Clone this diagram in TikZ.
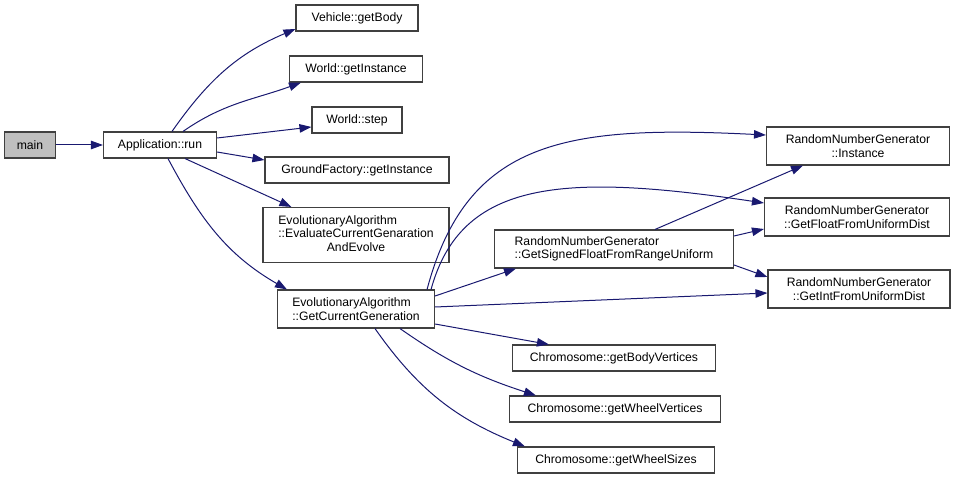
\documentclass[tikz,border=0pt]{standalone}
\usepackage{fontspec}
\setmainfont{Liberation Sans}
\usepackage{tikz}
\usetikzlibrary{arrows.meta, positioning}
\definecolor{edgeblue}{HTML}{191970}
\definecolor{rootgray}{HTML}{BFBFBF}
\definecolor{frame}{HTML}{404040}
\tikzstyle{fnode}    = [rectangle, draw=frame, fill=white, line width=1.1pt,
                        inner sep=2pt, minimum height=26pt,
                        font=\fontsize{12.2}{13.5}\selectfont]
\tikzstyle{fnode2}   = [fnode, minimum height=38pt]
\tikzstyle{rootnode} = [fnode, fill=rootgray]
\tikzstyle{call}     = [-{Triangle[length=12pt, width=8.5pt]}, line width=1pt,
                        color=edgeblue]

\begin{document}
\begin{tikzpicture}[x=1pt, y=1pt]
  \useasboundingbox (0,0) rectangle (967,480);

  %% caller
  \node[rootnode, minimum width=51pt] (main) at (30,335) {main};
  \node[fnode, minimum width=113pt] (apprun) at (160,335) {Application::run};

  %% callees of Application::run
  \node[fnode, minimum width=122pt] (vbody) at (357,462) {Vehicle::getBody};
  \node[fnode, minimum width=133pt] (wgi) at (356,411) {World::getInstance};
  \node[fnode, minimum width=90pt] (wstep) at (357,360) {World::step};
  \node[fnode, minimum width=184pt] (gfgi) at (357,310) {GroundFactory::getInstance};
  \node[fnode, minimum width=186pt, minimum height=55pt] (eaeval) at (356,245)
        {\begin{tabular}{@{}l@{}}EvolutionaryAlgorithm\\::EvaluateCurrentGenaration\\
         \multicolumn{1}{@{}c@{}}{AndEvolve}\end{tabular}};
  \node[fnode2, minimum width=157pt, align=left] (eagcg) at (356,171)
        {EvolutionaryAlgorithm\\::GetCurrentGeneration};

  %% random number generator
  \node[fnode2, minimum width=239pt, align=left] (rngsigned) at (614,231)
        {RandomNumberGenerator\\::GetSignedFloatFromRangeUniform};
  \node[fnode2, minimum width=183pt, align=center] (rnginst) at (858,334)
        {RandomNumberGenerator\\::Instance};
  \node[fnode2, minimum width=185pt, align=center] (rngfloat) at (857,263)
        {RandomNumberGenerator\\::GetFloatFromUniformDist};
  \node[fnode2, minimum width=182pt, align=center] (rngint) at (859,191)
        {RandomNumberGenerator\\::GetIntFromUniformDist};

  %% chromosome
  \node[fnode, minimum width=203pt] (cbv) at (614,122) {Chromosome::getBodyVertices};
  \node[fnode, minimum width=211pt] (cwv) at (615,71) {Chromosome::getWheelVertices};
  \node[fnode, minimum width=197pt] (cws) at (616,20) {Chromosome::getWheelSizes};

  %% calls
  \draw[call] (main) -- (apprun);
  \draw[call] ([xshift=12pt]apprun.north) to[out=55, in=203] ([yshift=-11pt]vbody.west);
  \draw[call] ([xshift=23pt]apprun.north) to[out=35, in=200] ([xshift=12pt]wgi.south west);
  \draw[call] ([yshift=7pt]apprun.east) -- ([yshift=-7pt]wstep.west);
  \draw[call] ([yshift=-7pt]apprun.east) -- ([yshift=10pt]gfgi.west);
  \draw[call] ([xshift=25pt]apprun.south) -- ([xshift=29pt]eaeval.north west);
  \draw[call] ([xshift=8pt]apprun.south) to[out=-62, in=150] ([xshift=10pt]eagcg.north west);

  \draw[call] ([xshift=-8pt]eagcg.north east) .. controls +(40,150) and +(-200,10)
        .. ([yshift=11pt]rnginst.west);
  \draw[call] ([xshift=-4pt]eagcg.north east) .. controls +(30,110) and +(-200,30)
        .. ([yshift=14pt]rngfloat.west);
  \draw[call] ([yshift=13pt]eagcg.east) -- ([xshift=22pt]rngsigned.south west);
  \draw[call] ([yshift=2pt]eagcg.east) -- ([yshift=-4pt]rngint.west);
  \draw[call] ([yshift=-15pt]eagcg.east) -- ([xshift=37pt]cbv.north west);
  \draw[call] ([xshift=44pt]eagcg.south) to[out=-35, in=162] ([xshift=27pt]cwv.north west);
  \draw[call] ([xshift=19pt]eagcg.south) to[out=-55, in=158] ([xshift=8pt]cws.north west);

  \draw[call] ([xshift=41pt]rngsigned.north) -- ([xshift=-55pt]rnginst.south);
  \draw[call] ([yshift=13pt]rngsigned.east) -- ([yshift=-12pt]rngfloat.west);
  \draw[call] ([yshift=-16pt]rngsigned.east) -- ([yshift=12pt]rngint.west);

\end{tikzpicture}
\end{document}
